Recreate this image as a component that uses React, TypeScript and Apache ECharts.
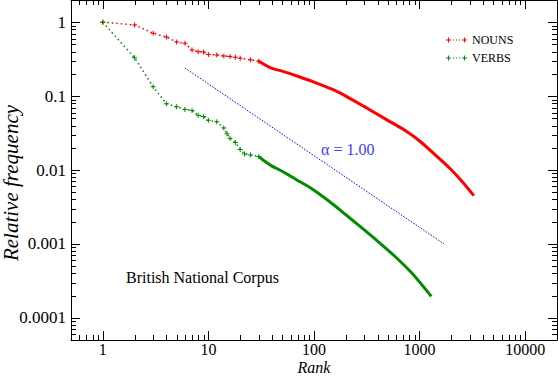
import React, { useEffect, useRef } from 'react';
import * as echarts from 'echarts';

// Axis ranges and tick labels
const X_MIN = 0.5;
const X_MAX = 20000;
const Y_MIN = 0.00005;
const Y_MAX = 2;
const xTickValues = [1, 10, 100, 1000, 10000];
const xTickLabels = ['1', '10', '100', '1000', '10000'];
const yTickValues = [0.0001, 0.001, 0.01, 0.1, 1];
const yTickLabels = ['0.0001', '0.001', '0.01', '0.1', '1'];
const minorMultipliers = [2, 3, 4, 5, 6, 7, 8, 9];
const decades = [0.00001, 0.0001, 0.001, 0.01, 0.1, 1, 10, 100, 1000, 10000];

// NOUNS
const nounRanksSparse = [1, 2, 3, 4, 5, 6, 7, 8, 9, 10, 12, 14, 16, 18, 20, 25, 30];
const nounFreqSparse = [1.0, 0.92, 0.71, 0.63, 0.54, 0.52, 0.42, 0.4, 0.395, 0.366, 0.36, 0.35, 0.345, 0.335, 0.325, 0.31, 0.297];
const nounRanksDense = [30, 40, 50, 70, 100, 150, 200, 300, 500, 700, 1000, 1500, 2000, 2500, 3260];
const nounFreqDense = [0.297, 0.237, 0.218, 0.186, 0.155, 0.123, 0.1, 0.072, 0.047, 0.0355, 0.0247, 0.0147, 0.01, 0.0071, 0.0045];

// VERBS
const verbRanksSparse = [1, 2, 3, 4, 5, 6, 7, 8, 9, 10, 12, 14, 15, 16, 18, 20, 22, 25, 30];
const verbFreqSparse = [1.0, 0.33, 0.134, 0.079, 0.072, 0.066, 0.064, 0.055, 0.053, 0.047, 0.045, 0.037, 0.031, 0.027, 0.0235, 0.019, 0.0165, 0.016, 0.0152];
const verbRanksDense = [30, 35, 40, 50, 67, 93, 138, 199, 286, 412, 589, 848, 1290];
const verbFreqDense = [0.0152, 0.0128, 0.0113, 0.0096, 0.0075, 0.0057, 0.0038, 0.0025, 0.00163, 0.00105, 0.00067, 0.0004, 0.000195];

// Reference power law, alpha = 1.00
const refRanks = [6, 1700];
const refFreq = [0.24, 0.001];

const SERIF = "'Liberation Serif', 'Times New Roman', Times, serif";
const RED = '#ff0000';
const GREEN = '#008b00';
const BLUE = '#0000ff';
const PLUS = 'path://M0,2h5v1h-5z M2,0h1v5h-1z';
const LEGEND_ICON = 'path://M0,2h5v1h-5z M2,0h1v5h-1z M7,2h1v1h-1z M10,2h1v1h-1z M13,2h1v1h-1z M16,2h5v1h-5z M18,0h1v5h-1z';

const pair = (xs: number[], ys: number[]) => xs.map((x, i) => [x, ys[i]]);

const minorList = (lo: number, hi: number) => {
  const out: number[] = [];
  decades.forEach((d) => minorMultipliers.forEach((m) => {
    const v = m * d;
    if (v >= lo * 0.999999 && v <= hi * 1.000001) out.push(v);
  }));
  return out;
};

const fmt = (values: number[], labels: string[]) => (v: number) => {
  const i = values.findIndex((t) => Math.abs(t - v) / t < 1e-6);
  return i >= 0 ? labels[i] : '';
};

export default function App() {
  const ref = useRef<HTMLDivElement>(null);
  useEffect(() => {
    document.body.style.margin = '0';
    if (!ref.current) return;
    const chart = echarts.init(ref.current, undefined, { renderer: 'svg' });
    const tickStyle = { color: '#000', width: 1 };
    const baseX = {
      type: 'log' as const,
      logBase: 10,
      min: X_MIN,
      max: X_MAX,
      splitLine: { show: false },
      axisLine: { show: true, lineStyle: tickStyle },
      axisTick: { show: true, inside: true, length: 9, lineStyle: tickStyle },
    };
    const baseY = {
      type: 'log' as const,
      logBase: 10,
      min: Y_MIN,
      max: Y_MAX,
      splitLine: { show: false },
      axisLine: { show: true, lineStyle: tickStyle },
      axisTick: { show: true, inside: true, length: 9, lineStyle: tickStyle },
    };
    const xMinor = minorList(X_MIN, X_MAX);
    const yMinor = minorList(Y_MIN, Y_MAX);
    const snap = (v: number) => Math.round(v) + 0.5;
    chart.setOption({
      animation: false,
      backgroundColor: '#fff',
      grid: { left: 71, right: 1, top: 0, bottom: 36, containLabel: false, outerBoundsMode: 'none' },
      xAxis: [
        {
          ...baseX,
          position: 'bottom',
          name: 'Rank',
          nameLocation: 'middle',
          nameGap: 20,
          nameMoveOverlap: false,
          nameTextStyle: { fontFamily: SERIF, fontStyle: 'italic', fontSize: 16, lineHeight: 15, color: '#000' },
          axisLabel: { show: true, margin: 1, fontFamily: SERIF, fontSize: 16, lineHeight: 17, color: '#000', formatter: fmt(xTickValues, xTickLabels) },
        },
        { ...baseX, position: 'top', axisLabel: { show: false } },
      ],
      yAxis: [
        {
          ...baseY,
          position: 'left',
          axisLabel: { show: true, margin: 5, fontFamily: SERIF, fontSize: 17, color: '#000', formatter: fmt(yTickValues, yTickLabels) },
        },
        { ...baseY, position: 'right', axisLabel: { show: false } },
      ],
      legend: {
        data: ['NOUNS', 'VERBS'],
        orient: 'vertical',
        left: 441,
        top: 29,
        itemWidth: 21,
        itemHeight: 5,
        itemGap: 6,
        icon: LEGEND_ICON,
        itemStyle: { borderWidth: 0 },
        lineStyle: { width: 0 },
        textStyle: { fontFamily: SERIF, fontSize: 12, color: '#000', padding: [0, 0, 0, 0] },
      },
      graphic: [
        {
          type: 'text',
          x: 11,
          y: 183,
          rotation: Math.PI / 2,
          style: { text: 'Relative frequency', fontFamily: SERIF, fontStyle: 'italic', fontSize: 21, fill: '#000', align: 'center', verticalAlign: 'middle' },
        },
        { type: 'text', left: 321, top: 141, style: { text: 'α = 1.00', fontFamily: SERIF, fontSize: 16, fill: '#3c3cff' } },
        { type: 'text', left: 126, top: 269, style: { text: 'British National Corpus', fontFamily: SERIF, fontSize: 16, fill: '#000' } },
      ],
      series: [
        {
          name: 'xminor',
          type: 'custom',
          silent: true,
          xAxisIndex: 0,
          yAxisIndex: 0,
          clip: false,
          data: xMinor.map((v) => [v, 1]),
          renderItem: (params: any, api: any) => {
            const cs = params.coordSys;
            const px = snap(api.coord([api.value(0), 1])[0]);
            const b = cs.y + cs.height;
            return {
              type: 'group',
              children: [
                { type: 'line', shape: { x1: px, y1: b, x2: px, y2: b - 5 }, style: { stroke: '#000', lineWidth: 1 } },
                { type: 'line', shape: { x1: px, y1: cs.y, x2: px, y2: cs.y + 5 }, style: { stroke: '#000', lineWidth: 1 } },
              ],
            };
          },
        },
        {
          name: 'yminor',
          type: 'custom',
          silent: true,
          xAxisIndex: 0,
          yAxisIndex: 0,
          clip: false,
          data: yMinor.map((v) => [1, v]),
          renderItem: (params: any, api: any) => {
            const cs = params.coordSys;
            const py = snap(api.coord([1, api.value(1)])[1]);
            const r = cs.x + cs.width;
            return {
              type: 'group',
              children: [
                { type: 'line', shape: { x1: cs.x, y1: py, x2: cs.x + 5, y2: py }, style: { stroke: '#000', lineWidth: 1 } },
                { type: 'line', shape: { x1: r, y1: py, x2: r - 5, y2: py }, style: { stroke: '#000', lineWidth: 1 } },
              ],
            };
          },
        },
        {
          name: 'alpha',
          type: 'line',
          data: pair(refRanks, refFreq),
          showSymbol: false,
          lineStyle: { color: BLUE, width: 1, type: [1.5, 1.5] },
          itemStyle: { color: BLUE },
        },
        {
          name: 'NOUNS',
          type: 'line',
          data: pair(nounRanksDense, nounFreqDense),
          showSymbol: false,
          smooth: 0.3,
          lineStyle: { color: RED, width: 3 },
          itemStyle: { color: RED, borderWidth: 0 },
        },
        {
          name: 'NOUNS',
          type: 'line',
          data: pair(nounRanksSparse, nounFreqSparse),
          symbol: PLUS,
          symbolSize: 5,
          lineStyle: { color: RED, width: 1.5, type: [1.5, 3] },
          itemStyle: { color: RED, borderWidth: 0 },
        },
        {
          name: 'VERBS',
          type: 'line',
          data: pair(verbRanksDense, verbFreqDense),
          showSymbol: false,
          smooth: 0.3,
          lineStyle: { color: GREEN, width: 3 },
          itemStyle: { color: GREEN, borderWidth: 0 },
        },
        {
          name: 'VERBS',
          type: 'line',
          data: pair(verbRanksSparse, verbFreqSparse),
          symbol: PLUS,
          symbolSize: 5,
          lineStyle: { color: GREEN, width: 1.5, type: [1.5, 3] },
          itemStyle: { color: GREEN, borderWidth: 0 },
        },
      ],
    });
    return () => chart.dispose();
  }, []);
  return <div ref={ref} style={{ width: 558, height: 376 }} />;
}
